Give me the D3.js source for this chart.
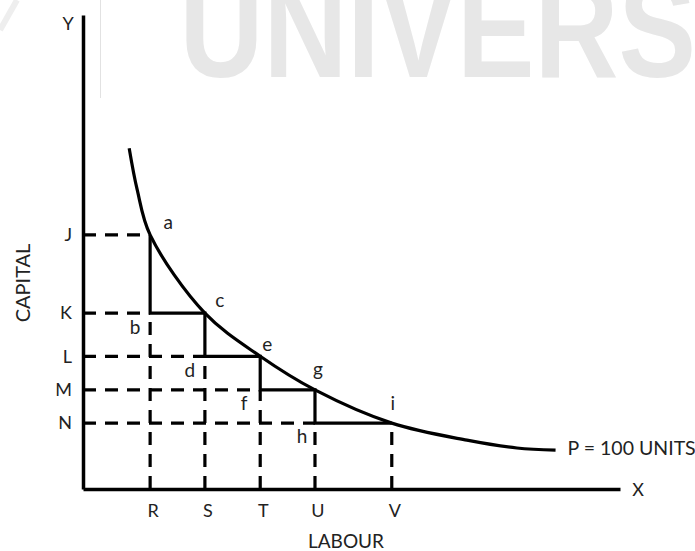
<!DOCTYPE html>
<html>
<head>
<meta charset="utf-8">
<script src="https://cdn.jsdelivr.net/npm/d3@7"></script>
<style>
  html, body { margin: 0; padding: 0; background: #fff; }
  svg { display: block; }
  text { font-family: Lato, "Open Sans", "Liberation Sans", sans-serif; fill: #222; }
</style>
</head>
<body>
<svg id="chart" width="695" height="551"></svg>
<script>
// ---- data (arbitrary units; both axes 0..100) ----
const labourTicks   = ["R", "S", "T", "U", "V"];
const labourValues  = [12.5, 22.7, 33.0, 43.2, 57.5];
const capitalTicks  = ["J", "K", "L", "M", "N"];
const capitalValues = [53.6, 37.1, 28.0, 20.9, 13.9];

// isoquant P = 100 units
const curveLabour  = [8.6, 10.1, 12.5, 22.7, 33.0, 43.2, 57.5, 71.5, 80.8, 88.0];
const curveCapital = [71.9, 63.1, 53.6, 37.1, 28.0, 20.9, 13.9, 10.3, 8.65, 8.2];

// staircase points: [label, labour index, capital index]
const pointLabels  = ["a", "b", "c", "d", "e", "f", "g", "h", "i"];
const pointLabourIdx  = [0, 0, 1, 1, 2, 2, 3, 3, 4];
const pointCapitalIdx = [0, 1, 1, 2, 2, 3, 3, 4, 4];

const curveLabel = "P = 100 UNITS";
const xTitle = "LABOUR", yTitle = "CAPITAL";
const xEnd = "X", yEnd = "Y";
const watermark = "UNIVERS";

// ---- layout ----
const svg = d3.select("#chart");
const x = d3.scaleLinear().domain([0, 100]).range([83, 620]);
const y = d3.scaleLinear().domain([0, 100]).range([489, 15]);

// background watermark
svg.append("text")
  .attr("transform", "translate(179.5,77) scale(0.83,1)")
  .style("font-family", "'Liberation Sans', Arial, sans-serif")
  .style("font-weight", "bold")
  .style("font-size", "140px")
  .style("fill", "#e7e7e7")
  .text(watermark);
svg.append("line").attr("x1", 100.5).attr("x2", 100.5).attr("y1", 0).attr("y2", 98)
  .attr("stroke", "#e2e2e2").attr("stroke-width", 1);
svg.append("line").attr("x1", 0).attr("y1", 30).attr("x2", 17).attr("y2", 0)
  .attr("stroke", "#eeeeee").attr("stroke-width", 6);

const pts = pointLabels.map((l, i) => ({
  label: l,
  L: labourValues[pointLabourIdx[i]],
  K: capitalValues[pointCapitalIdx[i]]
}));

const dash = "13,9";
const lineW = 3.2;

// dashed horizontals from the capital axis to the left-most point at each level
capitalValues.forEach((k) => {
  const p = pts.find(d => d.K === k);
  svg.append("line")
    .attr("x1", x(0)).attr("x2", x(p.L))
    .attr("y1", y(k)).attr("y2", y(k))
    .attr("stroke", "#000").attr("stroke-width", lineW)
    .attr("stroke-dasharray", dash);
});
// dashed verticals from the labour axis up to the lowest point at each labour value
labourValues.forEach((l) => {
  const kMin = d3.min(pts.filter(d => d.L === l), d => d.K);
  svg.append("line")
    .attr("x1", x(l)).attr("x2", x(l))
    .attr("y1", y(0)).attr("y2", y(kMin))
    .attr("stroke", "#000").attr("stroke-width", lineW)
    .attr("stroke-dasharray", dash);
});

// solid staircase a-b-c-d-e-f-g-h-i
svg.append("path")
  .datum(pts)
  .attr("d", d3.line().x(d => x(d.L)).y(d => y(d.K)))
  .attr("fill", "none").attr("stroke", "#000").attr("stroke-width", lineW)
  .attr("stroke-linejoin", "miter");

// isoquant curve
const curveData = curveLabour.map((l, i) => ({ L: l, K: curveCapital[i] }));
svg.append("path")
  .datum(curveData)
  .attr("d", d3.line().x(d => x(d.L)).y(d => y(d.K)).curve(d3.curveCatmullRom.alpha(0.5)))
  .attr("fill", "none").attr("stroke", "#000").attr("stroke-width", 3.2);

// axes
const yAxis = d3.axisLeft(y)
  .tickValues(capitalValues)
  .tickFormat((d, i) => capitalTicks[i])
  .tickSize(0).tickPadding(11);
const xAxis = d3.axisBottom(x)
  .tickValues(labourValues)
  .tickFormat((d, i) => labourTicks[i])
  .tickSize(0).tickPadding(15);

const gy = svg.append("g").attr("transform", `translate(${x(0)},0)`).call(yAxis);
const gx = svg.append("g").attr("transform", `translate(0,${y(0)})`).call(xAxis);
[gx, gy].forEach(g => {
  g.select(".domain").attr("stroke", "#000").attr("stroke-width", 3.5);
  g.selectAll("text").style("font-size", "18px").style("font-family", "Lato, sans-serif").attr("fill", "#222");
});
gx.selectAll(".tick text").attr("dx", 2.5);

// axis end letters and titles
svg.append("text").attr("x", 68).attr("y", 30).attr("text-anchor", "middle")
  .style("font-size", "18px").text(yEnd);
svg.append("text").attr("x", 638).attr("y", 496).attr("text-anchor", "middle")
  .style("font-size", "18px").text(xEnd);
svg.append("text").attr("x", 346).attr("y", 548).attr("text-anchor", "middle")
  .style("font-size", "19px").text(xTitle);
svg.append("text").attr("transform", "translate(30,283) rotate(-90)").attr("text-anchor", "middle")
  .style("font-size", "20px").text(yTitle);

// point labels
const labelOffsets = {
  a: [18, -6], b: [-15, 21], c: [15, -6], d: [-15, 21], e: [7, -5],
  f: [-16, 20], g: [3, -14], h: [-13, 20], i: [1, -13]
};
svg.selectAll("text.pt")
  .data(pts)
  .join("text")
  .attr("class", "pt")
  .attr("x", d => x(d.L) + labelOffsets[d.label][0])
  .attr("y", d => y(d.K) + labelOffsets[d.label][1])
  .attr("text-anchor", "middle")
  .style("font-size", "19px")
  .text(d => d.label);

// curve label
const last = curveData[curveData.length - 1];
svg.append("text")
  .attr("x", x(last.L) + 12).attr("y", y(last.K) + 5)
  .style("font-size", "19.5px")
  .text(curveLabel);
</script>
</body>
</html>
